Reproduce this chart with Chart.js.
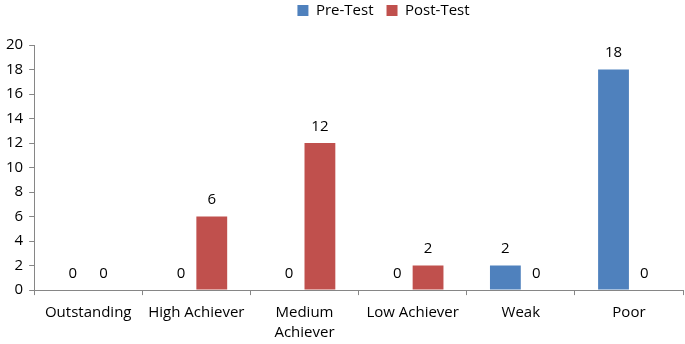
<!DOCTYPE html>
<html>
<head>
<meta charset="utf-8">
<script src="https://cdn.jsdelivr.net/npm/chart.js@4/dist/chart.umd.min.js"></script>
<style>
  html, body { margin: 0; padding: 0; background: #fff; }
  #wrap { width: 685px; height: 344px; }
</style>
</head>
<body>
<div id="wrap"><canvas id="levelChart"></canvas></div>
<script>
const categories = ['Outstanding', 'High Achiever', ['Medium', 'Achiever'], 'Low Achiever', 'Weak', 'Poor'];
const preTest = [0, 0, 0, 0, 2, 18];
const postTest = [0, 6, 12, 2, 0, 0];
const yTicks = [0, 2, 4, 6, 8, 10, 12, 14, 16, 18, 20];

const fontFamily = "'Open Sans', 'Liberation Sans', sans-serif";

// draws the value above every bar, like excel data labels
const valueLabels = {
  id: 'valueLabels',
  afterDatasetsDraw(chart) {
    const ctx = chart.ctx;
    ctx.save();
    ctx.font = '15px ' + fontFamily;
    ctx.fillStyle = '#000';
    ctx.textAlign = 'center';
    ctx.textBaseline = 'bottom';
    chart.data.datasets.forEach(function(ds, i) {
      chart.getDatasetMeta(i).data.forEach(function(bar, j) {
        ctx.fillText(ds.data[j], bar.x, bar.y - 9);
      });
    });
    ctx.restore();
  }
};

// extra room under the legend, and legend pushed a bit to the right
const legendGap = {
  id: 'legendGap',
  beforeInit(chart) {
    const fit = chart.legend.fit;
    chart.legend.fit = function() {
      fit.bind(chart.legend)();
      this.height += 17;
    };
  },
  afterUpdate(chart) {
    chart.legend.left += 42;
    chart.legend.right += 42;
  }
};

const data = {
  labels: categories,
  datasets: [{
    label: 'Pre-Test',
    backgroundColor: '#4F81BD',
    data: preTest,
    categoryPercentage: 0.57,
    barPercentage: 1.0
  }, {
    label: 'Post-Test',
    backgroundColor: '#C0504D',
    data: postTest,
    categoryPercentage: 0.57,
    barPercentage: 1.0
  }]
};

const config = {
  type: 'bar',
  data,
  options: {
    responsive: true,
    maintainAspectRatio: false,
    animation: false,
    layout: { padding: { top: -10, right: 2, left: 0, bottom: -7 } },
    plugins: {
      legend: {
        position: 'top',
        labels: {
          boxWidth: 11,
          boxHeight: 11,
          padding: 13,
          color: '#000',
          font: { family: fontFamily, size: 15 }
        }
      },
      tooltip: { enabled: false }
    },
    scales: {
      x: {
        grid: {
          offset: true,
          drawOnChartArea: false,
          drawTicks: true,
          tickLength: 5,
          color: '#868686'
        },
        border: { color: '#868686', width: 1 },
        ticks: {
          color: '#000',
          padding: 8,
          font: { family: fontFamily, size: 15, lineHeight: 1.33 },
          maxRotation: 0,
          autoSkip: false
        }
      },
      y: {
        min: 0,
        max: 20,
        afterBuildTicks: function(axis) {
          axis.ticks = yTicks.map(v => ({ value: v }));
        },
        grid: {
          drawOnChartArea: false,
          drawTicks: true,
          tickLength: 5,
          color: '#868686'
        },
        border: { color: '#868686', width: 1 },
        ticks: {
          color: '#000',
          padding: 6,
          font: { family: fontFamily, size: 15 }
        }
      }
    }
  },
  plugins: [valueLabels, legendGap]
};

new Chart(document.getElementById('levelChart'), config);
</script>
</body>
</html>
